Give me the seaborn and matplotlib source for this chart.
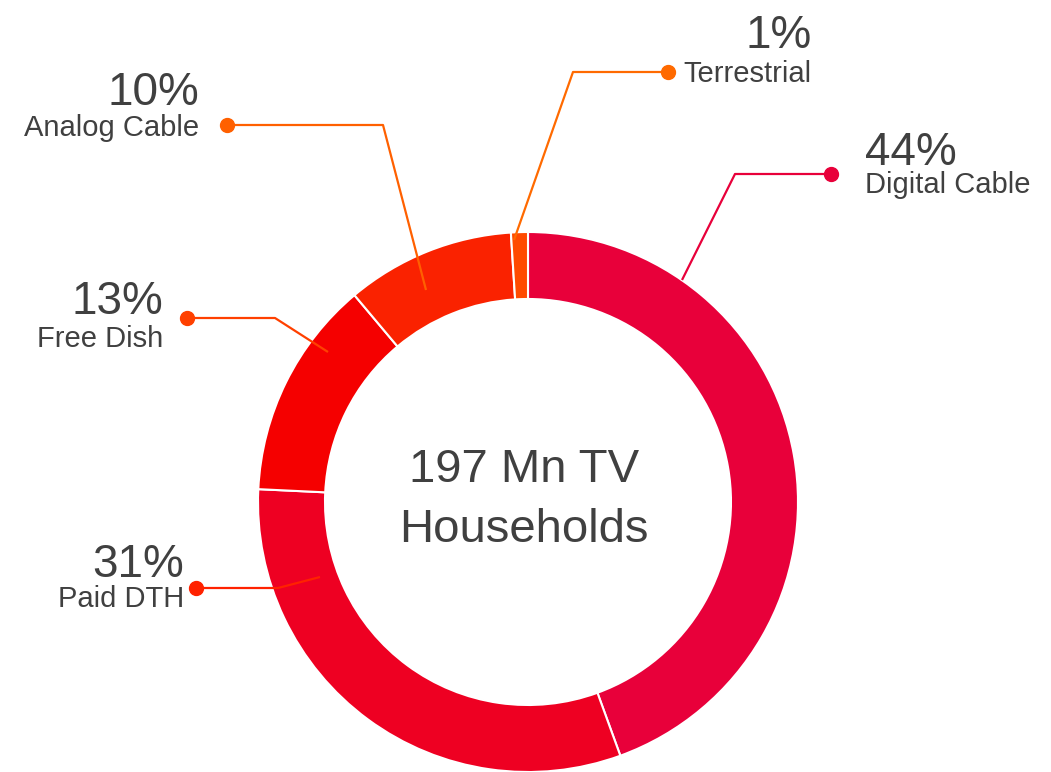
import matplotlib
matplotlib.use("Agg")
import matplotlib.pyplot as plt
import seaborn as sns

# data
categories = ['Digital Cable', 'Paid DTH', 'Free Dish', 'Analog Cable', 'Terrestrial']
shares = [44, 31, 13, 10, 1]
wedge_colors = ['#E8003A', '#EE0022', '#F50000', '#FA2200', '#FF4A00']
line_colors = ['#E8003A', '#FF2200', '#FF4000', '#FF6000', '#FF6A00']
center_lines = ['197 Mn TV', 'Households']

# layout (pixel coords): leader start, elbow, dot, text anchor x, side
leaders = [
    ((682, 280), (735, 174), (831, 174), 865, 'left'),
    ((320, 577), (278, 588), (196, 588), 184, 'right'),
    ((328, 352), (275, 318), (187, 318), 163, 'right'),
    ((426, 290), (383, 125), (227, 125), 199, 'right'),
    ((514, 240), (573, 72), (668, 72), 683, 'left'),
]
pct_baselines = [165, 577, 314, 105, 48]
name_baselines = [193, 607, 347, 136, 82]
pct_right = [None, None, None, None, 812]

sns.set_theme(style='white')
plt.rcParams['font.family'] = ['Liberation Sans', 'DejaVu Sans']
txt = '#404040'

fig = plt.figure(figsize=(10.51, 7.72), dpi=100)
ax = fig.add_axes([0, 0, 1, 1])

ax.pie(shares, colors=wedge_colors, center=(528, 502), radius=270,
       startangle=-90, counterclock=True, frame=True,
       wedgeprops=dict(width=67, edgecolor='white', linewidth=1.5))
ax.set_xlim(0, 1051)
ax.set_ylim(772, 0)
ax.set_aspect('equal')
ax.axis('off')

for i, (start, elbow, dot, tx, side) in enumerate(leaders):
    xs = [start[0], elbow[0], dot[0]]
    ys = [start[1], elbow[1], dot[1]]
    ax.plot(xs, ys, color=line_colors[i], lw=1.6, solid_capstyle='butt', zorder=3)
    ax.plot(dot[0], dot[1], 'o', color=line_colors[i], ms=10, zorder=4)
    px = pct_right[i] if pct_right[i] is not None else tx
    pha = 'right' if pct_right[i] is not None else side
    ax.text(px, pct_baselines[i], f'{shares[i]}%', ha=pha, va='baseline',
            fontsize=33, color=txt)
    ax.text(tx, name_baselines[i], categories[i], ha=side, va='baseline',
            fontsize=21, color=txt)

for line, base in zip(center_lines, [482, 542]):
    ax.text(524, base, line, ha='center', va='baseline', fontsize=34, color=txt)

fig.savefig('out.png', dpi=100)
